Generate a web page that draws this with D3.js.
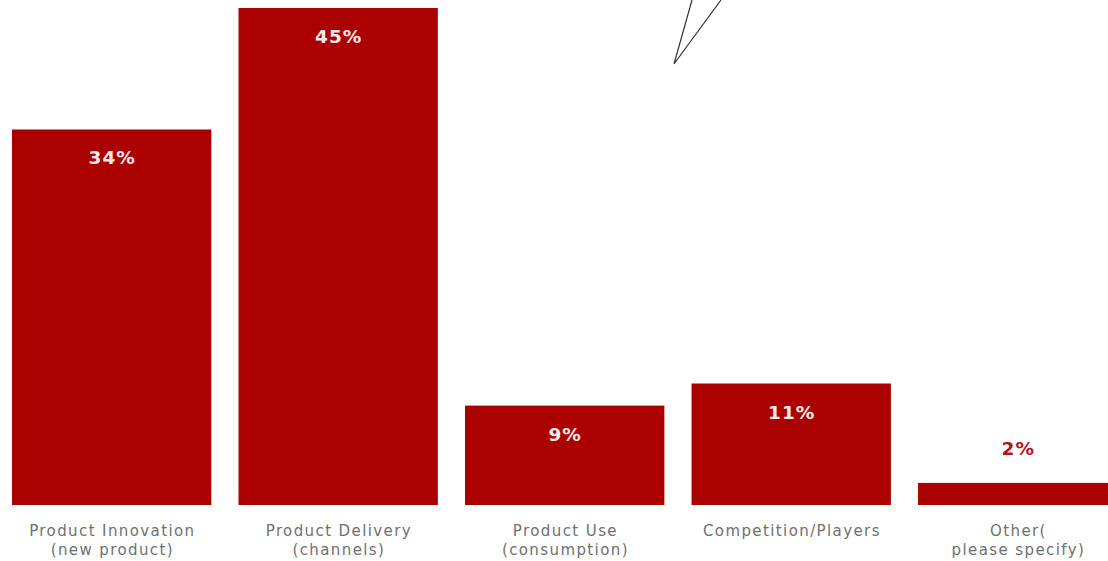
<!DOCTYPE html>
<html>
<head>
<meta charset="utf-8">
<script src="https://cdn.jsdelivr.net/npm/d3@7"></script>
<style>
  html, body { margin: 0; padding: 0; background: #ffffff; }
  svg { display: block; }
</style>
</head>
<body>
<svg id="chart" width="1108" height="561"></svg>
<script>
// Survey shares by area of disruption
const categories = ["Product Innovation\n(new product)", "Product Delivery\n(channels)", "Product Use\n(consumption)", "Competition/Players", "Other(\nplease specify)"];
const values = [34, 45, 9, 11, 2];
const valueLabels = ["34%", "45%", "9%", "11%", "2%"];

const width = 1108, height = 561;
const baseline = 505;
const barColor = "#aa0000";

const svg = d3.select("#chart");

const x = d3.scaleBand()
  .domain(categories)
  .range([-1.6, 1131])
  .paddingInner(0.12)
  .paddingOuter(0.06);

const y = d3.scaleLinear()
  .domain([0, 45])
  .range([baseline, 8]);

// Bars
svg.append("g")
  .selectAll("rect")
  .data(values)
  .join("rect")
  .attr("x", (d, i) => x(categories[i]))
  .attr("y", d => y(d))
  .attr("width", x.bandwidth())
  .attr("height", d => baseline - y(d))
  .attr("fill", barColor);

// Value labels: inside tall bars, above short ones
svg.append("g")
  .selectAll("text")
  .data(values)
  .join("text")
  .attr("x", (d, i) => x(categories[i]) + x.bandwidth() / 2 + 0.5)
  .attr("y", d => (baseline - y(d)) > 60 ? y(d) + 35 : y(d) - 28)
  .attr("text-anchor", "middle")
  .attr("font-family", "'DejaVu Sans', sans-serif")
  .attr("font-weight", 700)
  .attr("font-size", 18.5)
  .attr("letter-spacing", 1)
  .attr("fill", d => (baseline - y(d)) > 60 ? "#fbeaea" : "#b01818")
  .text((d, i) => valueLabels[i]);

// Category labels under the bars
const xAxis = svg.append("g")
  .attr("transform", `translate(0,${baseline})`)
  .call(d3.axisBottom(x).tickSize(0).tickFormat(""));
xAxis.select(".domain").remove();

xAxis.selectAll(".tick").each(function(d) {
  const lines = d.split("\n");
  const t = d3.select(this).append("text")
    .attr("text-anchor", "middle")
    .attr("font-family", "'DejaVu Sans', sans-serif")
    .attr("font-size", 15)
    .attr("letter-spacing", 1.4)
    .attr("fill", "#707070");
  lines.forEach((line, k) => {
    t.append("tspan")
      .attr("x", 0.7)
      .attr("y", 31 + k * 19)
      .text(line);
  });
});

// Pointer lines converging near the top
const pointer = [[692, 0], [674, 64], [721, 0]];
svg.append("path")
  .attr("d", d3.line()(pointer))
  .attr("fill", "none")
  .attr("stroke", "#333333")
  .attr("stroke-width", 1.2);
</script>
</body>
</html>
